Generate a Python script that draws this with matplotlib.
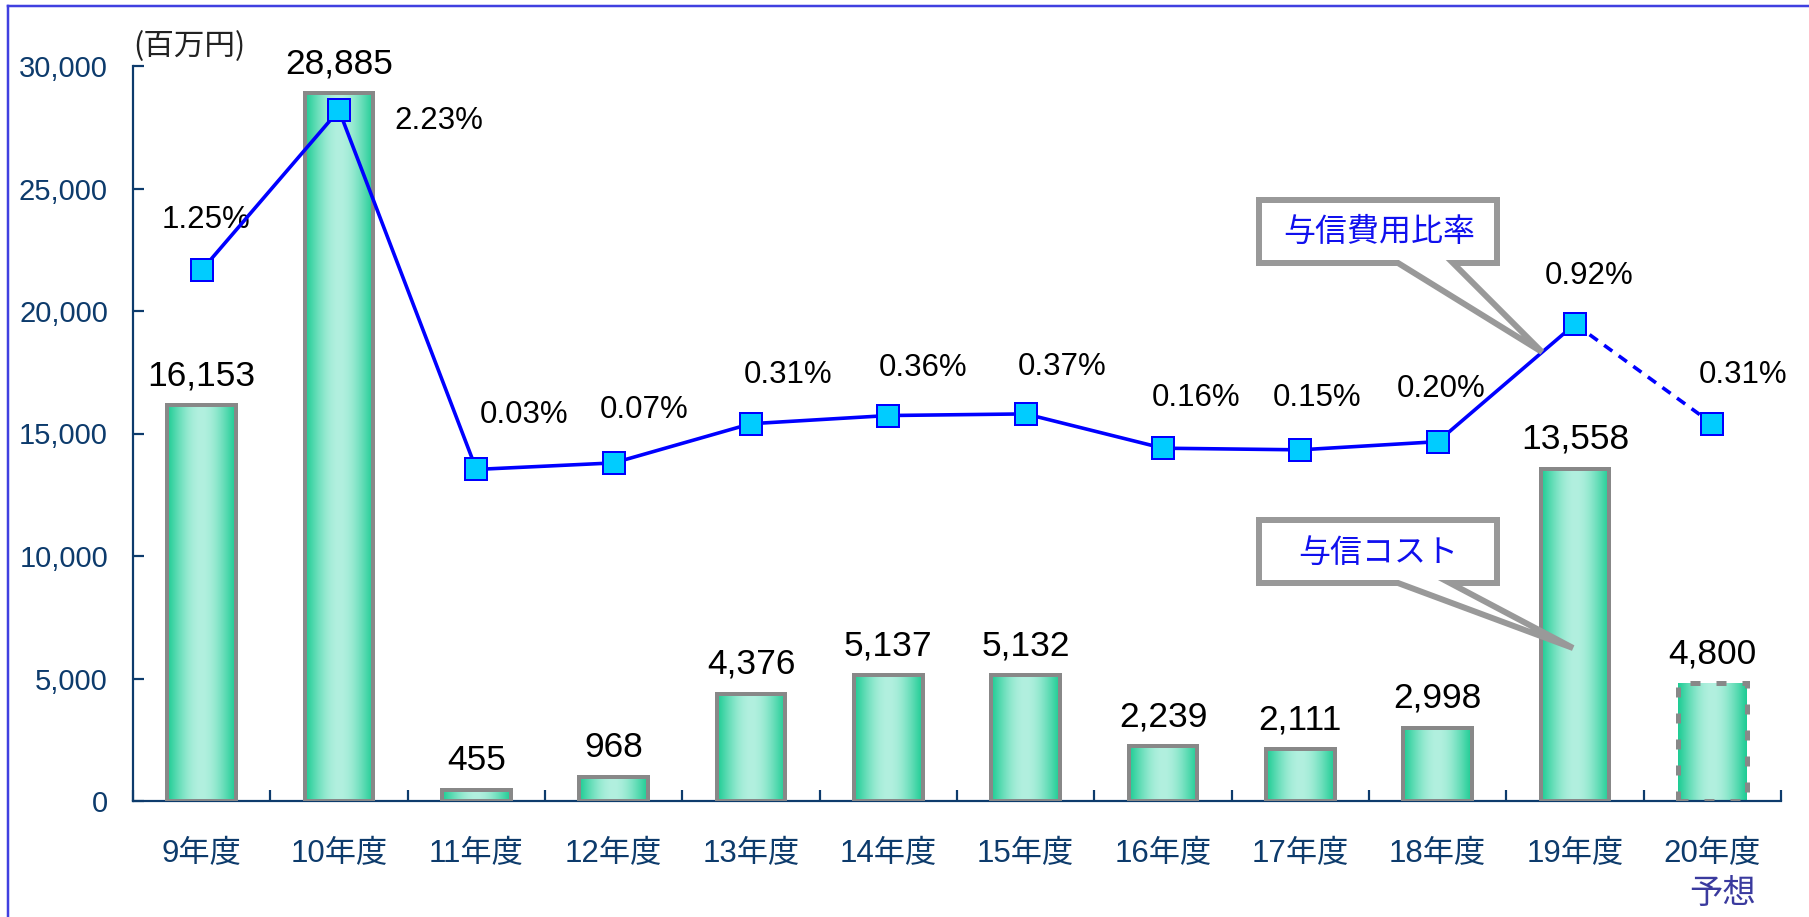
import matplotlib
matplotlib.use("Agg")
import matplotlib.pyplot as plt
import numpy as np
from matplotlib import font_manager
from matplotlib.patches import Polygon
from matplotlib.lines import Line2D

# ---------------- data ----------------
categories = ["9年度", "10年度", "11年度", "12年度", "13年度", "14年度",
              "15年度", "16年度", "17年度", "18年度", "19年度", "20年度"]
credit_cost = [16153, 28885, 455, 968, 4376, 5137, 5132, 2239, 2111, 2998, 13558, 4800]
cost_ratio = [1.25, 2.23, 0.03, 0.07, 0.31, 0.36, 0.37, 0.16, 0.15, 0.20, 0.92, 0.31]
ratio_labels = ["1.25%", "2.23%", "0.03%", "0.07%", "0.31%", "0.36%", "0.37%",
                "0.16%", "0.15%", "0.20%", "0.92%", "0.31%"]
yticks = [0, 5000, 10000, 15000, 20000, 25000, 30000]
unit_label = "(百万円)"
forecast_note = "予想"
callout_ratio = "与信費用比率"
callout_cost = "与信コスト"

# ---------------- fonts ----------------
names = {f.name for f in font_manager.fontManager.ttflist}
NARROW = "Liberation Sans Narrow" if "Liberation Sans Narrow" in names else "Liberation Sans"
LAT = "Liberation Sans"
CJK = "Noto Sans CJK JP"
plt.rcParams["font.family"] = [LAT, CJK, "DejaVu Sans"]

W, H = 1809, 917
DPI = 100
fig = plt.figure(figsize=(W / DPI, H / DPI), dpi=DPI)
PX = 72.0 / DPI  # points per pixel

NAVY = "#0d3b6c"

# axes placement (pixels -> fraction)
ax_l, ax_r, ax_t, ax_b = 133, 1781, 66, 801
ax = fig.add_axes([ax_l / W, (H - ax_b) / H, (ax_r - ax_l) / W, (ax_b - ax_t) / H])

x = np.arange(len(categories))
ax.set_xlim(-0.5, len(categories) - 0.5)
ax.set_ylim(0, 30000)

# bars (outline) + gradient fill clipped to each bar
bars = ax.bar(x, credit_cost, width=0.5, facecolor="none", edgecolor="#888888",
              linewidth=4 * PX, zorder=3)
bars[-1].set_linewidth(5 * PX)
bars[-1].set_linestyle((0, (2.0, 3.2)))

t = np.linspace(0, 1, 256)
prof = np.sin(np.pi * t) ** 1.1
green = np.array([0x1e, 0xcc, 0x94]) / 255
light = np.array([0xb2, 0xf0, 0xdf]) / 255
grad = (green[None, :] * (1 - prof[:, None]) + light[None, :] * prof[:, None])[None, :, :]
for b in bars:
    x0, y0 = b.get_x(), b.get_y()
    im = ax.imshow(grad, extent=[x0, x0 + b.get_width(), y0, y0 + b.get_height()],
                   aspect="auto", zorder=2, interpolation="bilinear")
    im.set_clip_path(b)
ax.set_xlim(-0.5, len(categories) - 0.5)
ax.set_ylim(0, 30000)

# bar value labels
for xi, v in zip(x, credit_cost):
    ax.annotate(f"{v:,}", xy=(xi, v), xytext=(0, 20), textcoords="offset pixels",
                ha="center", va="baseline", fontsize=25.5, family=[LAT], color="black",
                zorder=5)

# axes styling
for s in ["top", "right"]:
    ax.spines[s].set_visible(False)
for s in ["left", "bottom"]:
    ax.spines[s].set_color(NAVY)
    ax.spines[s].set_linewidth(2.2 * PX)
ax.set_yticks(yticks)
ax.set_yticklabels([f"{v:,}" for v in yticks])
ax.tick_params(axis="y", direction="in", length=11 * PX, width=2.2 * PX, color=NAVY,
               labelcolor=NAVY, labelsize=21, pad=25 * PX)
ax.set_xticks(np.arange(len(categories) + 1) - 0.5)
ax.set_xticklabels([])
ax.set_xticks(x, minor=True)
ax.set_xticklabels(categories, minor=True)
ax.tick_params(axis="x", which="major", direction="in", length=11 * PX, width=2.2 * PX,
               color=NAVY)
ax.tick_params(axis="x", which="minor", length=0, labelcolor=NAVY, labelsize=22.5,
               pad=38 * PX)
for lab in ax.get_yticklabels():
    lab.set_family([LAT])

ax.annotate(forecast_note, xy=(x[-1], 0), xycoords=("data", "axes fraction"),
            xytext=(10, -92), textcoords="offset pixels", ha="center", va="center",
            fontsize=24, family=[CJK], color="#3a3a9e", annotation_clip=False)

# unit label
fig.text(189 / W, (H - 47) / H, unit_label, ha="center", va="center", fontsize=22,
         family=[CJK], color="#222222")

# ratio line on secondary axis
ax2 = ax.twinx()
ax2.set_ylim(-2, 2.5)
ax2.set_axis_off()
n = len(cost_ratio)
ax2.plot(x[:n - 1], cost_ratio[:n - 1], color="#0000ff", linewidth=3.6 * PX, zorder=4)
ax2.plot(x[n - 2:], cost_ratio[n - 2:], color="#0000ff", linewidth=3.6 * PX,
         linestyle=(0, (2.8, 2.2)), zorder=4)
ax2.plot(x, cost_ratio, linestyle="none", marker="s", markersize=23 * PX,
         markerfacecolor="#00ccff", markeredgecolor="#0000ff", markeredgewidth=2 * PX,
         zorder=5)

label_offsets = [(4, 42), (100, -19), (48, 46), (30, 45), (37, 41), (35, 40), (36, 39),
                 (33, 42), (17, 44), (3, 45), (14, 40), (31, 41)]
for xi, v, lab, (dx, dy) in zip(x, cost_ratio, ratio_labels, label_offsets):
    ax2.annotate(lab, xy=(xi, v), xytext=(dx, dy), textcoords="offset pixels",
                 ha="center", va="baseline", fontsize=26 if NARROW != LAT else 22.5,
                 family=[NARROW], color="black")

# callouts (figure pixel coordinates, top-left origin)
def fxy(px, py):
    return (px / W, (H - py) / H)

def callout(x0, x1, y0, y1, b0, b1, tip, text, tx, ty):
    pts = [fxy(x0, y0), fxy(x1, y0), fxy(x1, y1), fxy(b1, y1), fxy(*tip),
           fxy(b0, y1), fxy(x0, y1)]
    poly = Polygon(pts, closed=True, transform=fig.transFigure, facecolor="white",
                   edgecolor="#999999", linewidth=6 * PX, joinstyle="miter", zorder=10)
    fig.patches.append(poly)
    fig.text(*fxy(tx, ty), text, ha="center", va="center", fontsize=23, family=[CJK],
             color="#1010ee", zorder=11)

callout(1259, 1497, 200, 263, 1398, 1453, (1542, 352), callout_ratio, 1379, 232)
callout(1259, 1497, 520, 583, 1398, 1450, (1573, 648), callout_cost, 1378, 553)

# outer frame lines (top and left)
fig.add_artist(Line2D([8 / W, 1.0], [(H - 6) / H] * 2, transform=fig.transFigure,
                      color="#4040e0", linewidth=2.5 * PX))
fig.add_artist(Line2D([8 / W] * 2, [0, (H - 6) / H], transform=fig.transFigure,
                      color="#4040e0", linewidth=2.5 * PX))

fig.savefig("out.png", dpi=DPI)
